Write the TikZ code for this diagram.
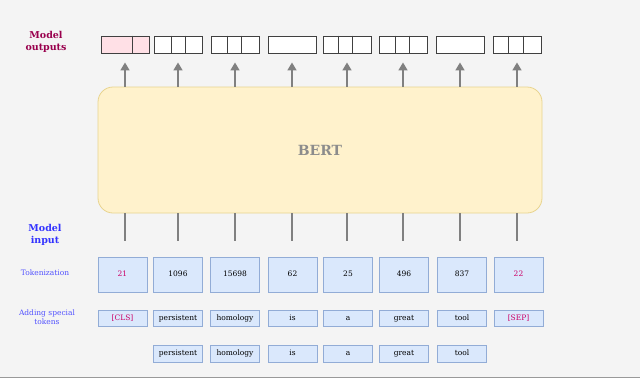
\documentclass[tikz,border=0pt]{standalone}
\usepackage{fontspec}
\setmainfont{DejaVu Serif}
\usetikzlibrary{positioning,arrows.meta,backgrounds}

\definecolor{bgcol}{HTML}{F4F4F4}
\definecolor{bertfill}{HTML}{FFF2CC}
\definecolor{bertdraw}{HTML}{E8D48F}
\definecolor{tokfill}{HTML}{DAE8FC}
\definecolor{tokdraw}{HTML}{92ACD6}
\definecolor{outpink}{HTML}{FFE0E6}
\definecolor{labmag}{HTML}{99004D}
\definecolor{tokmag}{HTML}{CC0066}
\definecolor{labblue}{HTML}{3333FF}
\definecolor{arrgray}{HTML}{808080}

\begin{document}
\begin{tikzpicture}[
  x=1pt,y=-1pt,
  font=\fontsize{7.5}{9}\selectfont,
  tok/.style={rectangle,draw=tokdraw,fill=tokfill,line width=0.9pt,minimum width=49pt,
              inner sep=0pt,text height=5.5pt,text depth=1.5pt},
  outbox/.style={rectangle,draw=black!75,fill=white,line width=0.9pt,minimum width=48pt,
                 minimum height=17pt,inner sep=0pt},
  lab/.style={align=center,text=labblue!85!white,font=\fontsize{7.5}{9}\selectfont},
  biglab/.style={align=center,font=\fontsize{9.5}{12}\selectfont\bfseries},
  arr/.style={-{Triangle[length=8pt,width=9pt]},line width=1.6pt,arrgray},
  feed/.style={line width=1.6pt,arrgray},
]

\useasboundingbox (0,0) rectangle (640,378);
\fill[bgcol] (0,0) rectangle (640,378);
\draw[black!40,line width=1pt] (0,377) -- (640,377);

% ---------- left labels ----------
\node[biglab,text=labmag] (lblout) at (46,42) {Model\\outputs};
\node[biglab,text=labblue] (lblin) at (45,235) {Model\\input};
\node[lab] (lbltok) at (45,273) {Tokenization};
\node[lab] (lblspec) at (47,317) {Adding special\\tokens};

% ---------- BERT block ----------
\node[rectangle,rounded corners=15pt,draw=bertdraw,fill=bertfill,line width=0.8pt,
      minimum width=444pt,minimum height=126pt,text=black!45,
      font=\fontsize{14}{16}\selectfont\bfseries] (bert) at (320,150) {BERT};

% ---------- model outputs ----------
\node[outbox,fill=outpink] (out1) at (125,44.5) {};
\node[outbox] (out2) at (178,44.5) {};
\node[outbox] (out3) at (235,44.5) {};
\node[outbox] (out4) at (292,44.5) {};
\node[outbox] (out5) at (347,44.5) {};
\node[outbox] (out6) at (403,44.5) {};
\node[outbox] (out7) at (460,44.5) {};
\node[outbox] (out8) at (517,44.5) {};

% cell dividers
\foreach \b/\d in {1/32, 2/18, 2/32, 3/17, 3/31, 5/16, 5/30, 6/17, 6/31, 8/16, 8/31}
  \draw[black!75,line width=0.9pt] ([xshift=\d pt]out\b.north west) -- ([xshift=\d pt]out\b.south west);

% ---------- token rows ----------
\foreach \i/\x/\t/\s in {1/122.5/{\color{tokmag}21}/{\color{tokmag}[CLS]},
                         2/178/1096/persistent,
                         3/235/15698/homology,
                         4/292.5/62/is,
                         5/348/25/a,
                         6/404/496/great,
                         7/462/837/tool,
                         8/518.5/{\color{tokmag}22}/{\color{tokmag}[SEP]}} {
  \node[tok,minimum height=35pt] (id\i) at (\x,274.5) {\t};
  \node[tok,minimum height=16pt] (sp\i) at (\x,318) {\s};
}

\foreach \i/\x/\w in {2/178/persistent, 3/235/homology, 4/292.5/is,
                      5/348/a, 6/404/great, 7/462/tool}
  \node[tok,minimum height=17pt] (w\i) at (\x,353.5) {\w};

% ---------- connectors ----------
\foreach \i in {1,...,8} {
  \draw[arr] (bert.north -| out\i) -- ([yshift=-9pt]out\i.south);
  \draw[feed] (bert.south -| out\i) -- ([yshift=16pt]out\i |- id\i.north);
}
\end{tikzpicture}
\end{document}
